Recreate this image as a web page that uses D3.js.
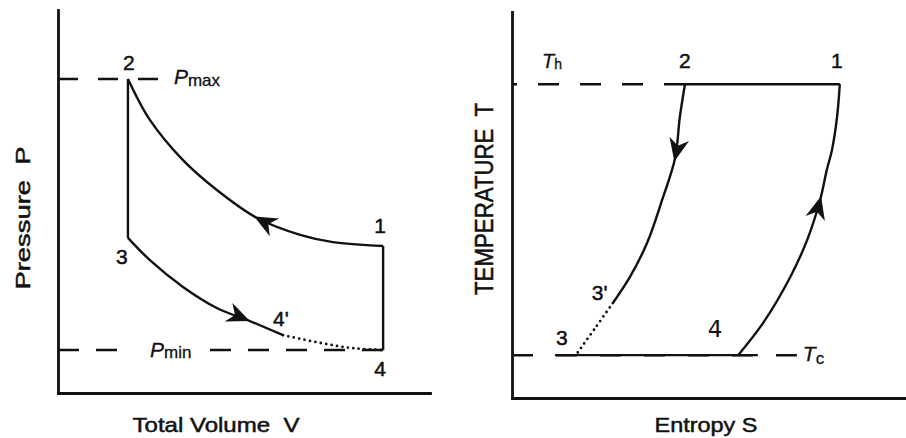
<!DOCTYPE html>
<html>
<head>
<meta charset="utf-8">
<script src="https://cdn.jsdelivr.net/npm/d3@7"></script>
<style>
  html, body { margin: 0; padding: 0; background: #fff; }
  svg { display: block; font-family: 'Liberation Sans', Arial, sans-serif; }
  text { white-space: pre; }
</style>
</head>
<body>
<svg id="chart" width="906" height="438"></svg>
<script>
// P-V diagram, arbitrary units (0-100 on both axes)
const pvStates = ['1', '2', '3', '4', "4'"]
const pvVolume = [87.4, 18.8, 18.8, 87.4, 60.5]
const pvPressure = [38.4, 82, 40.5, 11.2, 15.1]
const pvCompression = [[87.4, 38.4], [73.9, 39.4], [65.1, 41.3], [53.5, 45.7], [42.7, 53.0], [33.6, 60.8], [24.7, 71.3], [18.8, 82]]
const pvExpansion = [[18.8, 40.5], [24.7, 34.7], [33.6, 27.7], [42.7, 22.2], [50.8, 19.1], [60.5, 15.1]]
const pvExpansionIdeal = [[60.5, 15.1], [70.4, 13.1], [79.3, 11.7], [87.4, 11.2]]
const pvLevels = [82, 11.2]        // Pmax, Pmin
const pvLevelEnds = [27.4, 87.4]   // where the dashed guides stop

// T-S diagram, arbitrary units (0-100 on both axes)
const tsStates = ['1', '2', '3', '4', "3'"]
const tsEntropy = [83.2, 43.9, 16.2, 57.4, 25.6]
const tsTemperature = [81.3, 81.3, 11.1, 11.1, 24.6]
const tsExpansion = [[43.9, 81.3], [42.6, 72.8], [41.4, 62.2], [38.1, 51.3], [34.3, 40.2], [29.9, 31.3], [25.6, 24.6]]
const tsExpansionIdeal = [[25.6, 24.6], [21.1, 18.1], [16.2, 11.1]]
const tsCompression = [[57.4, 11.1], [63.7, 19.4], [70.6, 31.3], [74.9, 40.9], [78.2, 51.3], [79.9, 59.1], [81.2, 64.2], [82.5, 72.8], [83.2, 81.3]]
const tsRejection = [10.9, 62.4]   // extent of the Tc process line
const tsLevels = [81.3, 11.1]      // Th, Tc
const tsLevelEnds = [43.9, 72.3]

const ink = '#111'
const svg = d3.select('#chart')

const pvX = d3.scaleLinear().domain([0, 100]).range([58, 430])
const pvY = d3.scaleLinear().domain([0, 100]).range([393, 10])
const tsX = d3.scaleLinear().domain([0, 100]).range([512, 906])
const tsY = d3.scaleLinear().domain([0, 100]).range([398, 12])

const smooth = d3.curveCatmullRom.alpha(0.5)

const drawAxes = (x, y) => {
  svg.append('g')
    .attr('transform', `translate(0,${y(0)})`)
    .call(d3.axisBottom(x).tickValues([]).tickSizeOuter(0))
  svg.append('g')
    .attr('transform', `translate(${x(0)},0)`)
    .call(d3.axisLeft(y).tickValues([]).tickSizeOuter(0))
  svg.selectAll('.domain')
    .attr('stroke', ink)
    .attr('stroke-width', 2.8)
    .attr('stroke-linecap', 'square')
}

const drawLine = (x, y, pts, curve, style) => {
  const line = d3.line().x(d => x(d[0])).y(d => y(d[1])).curve(curve)
  const p = svg.append('path')
    .attr('d', line(pts))
    .attr('fill', 'none')
    .attr('stroke', ink)
    .attr('stroke-width', 2.4)
  if (style === 'dotted') {
    p.attr('stroke-dasharray', '0,5.5').attr('stroke-linecap', 'round').attr('stroke-width', 2.8)
  }
  return p
}

const drawGuide = (x, y, level, end, dash, offset) => {
  return svg.append('line')
    .attr('x1', x(0)).attr('x2', x(end))
    .attr('y1', y(level)).attr('y2', y(level))
    .attr('stroke', ink)
    .attr('stroke-width', 2.5)
    .attr('stroke-dasharray', dash)
    .attr('stroke-dashoffset', offset || 0)
}

const arrowAt = (path, t) => {
  const node = path.node()
  const len = node.getTotalLength() * t
  const p = node.getPointAtLength(len)
  const q = node.getPointAtLength(Math.max(0, len - 3))
  const a = Math.atan2(p.y - q.y, p.x - q.x) * 180 / Math.PI
  svg.append('path')
    .attr('d', 'M1,0L-22,-10L-15,0L-22,10Z')
    .attr('transform', `translate(${p.x},${p.y}) rotate(${a})`)
    .attr('fill', ink)
}

const label = (px, py, txt, opts) => {
  const o = Object.assign({ size: 21, anchor: 'middle', family: null, weight: 0.5 }, opts)
  const t = svg.append('text')
    .attr('x', px).attr('y', py)
    .attr('text-anchor', o.anchor)
    .attr('font-size', o.size)
    .attr('fill', ink)
    .attr('stroke', ink)
    .attr('stroke-width', o.weight)
    .text(txt)
  if (o.family) t.attr('font-family', o.family)
  return t
}

const subLabel = (px, py, main, sub, size, subSize, subDy) => {
  const t = svg.append('text')
    .attr('x', px).attr('y', py)
    .attr('fill', ink)
    .attr('stroke', ink)
    .attr('stroke-width', 0.3)
  t.append('tspan').attr('font-style', 'italic').attr('font-size', size).text(main)
  t.append('tspan').attr('font-size', subSize).attr('dy', subDy).text(sub)
  return t
}

// ---------- P-V panel ----------
drawAxes(pvX, pvY)

drawGuide(pvX, pvY, pvLevels[0], pvLevelEnds[0], '20,20')
drawGuide(pvX, pvY, pvLevels[1], pvLevelEnds[1], '21,17')

const pvPt = s => [pvVolume[pvStates.indexOf(s)], pvPressure[pvStates.indexOf(s)]]

const pvTop = drawLine(pvX, pvY, pvCompression, smooth)
drawLine(pvX, pvY, [pvPt('2'), pvPt('3')], d3.curveLinear)
const pvBottom = drawLine(pvX, pvY, pvExpansion, smooth)
drawLine(pvX, pvY, pvExpansionIdeal, smooth, 'dotted')
drawLine(pvX, pvY, [pvPt('4'), pvPt('1')], d3.curveLinear)
arrowAt(pvTop, 0.41)
arrowAt(pvBottom, 0.8)

// Pmax / Pmin labels
subLabel(pvX(pvLevelEnds[0]) + 14, pvY(pvLevels[0]) + 5, 'P', 'max', 21, 17, 2)
const pmin = subLabel(pvX(0) + 92, pvY(pvLevels[1]) + 7, 'P', 'min', 21, 17, 1)
const bb = pmin.node().getBBox()
svg.insert('rect', 'text')
  .attr('x', bb.x - 28).attr('y', bb.y)
  .attr('width', bb.width + 40).attr('height', bb.height)
  .attr('fill', '#fff')

const pvOffsets = { '1': [-3, -13], '2': [1, -9], '3': [-6, 26], '4': [-3, 26], "4'": [-10, -9] }
pvStates.forEach(s => {
  const [v, p] = pvPt(s)
  const [dx, dy] = pvOffsets[s]
  label(pvX(v) + dx, pvY(p) + dy, s, { anchor: s === "4'" ? 'start' : 'middle' })
})

label(216, 432, 'Total Volume  V', { size: 21 }).attr('textLength', 167).attr('lengthAdjust', 'spacingAndGlyphs')
label(0, 0, 'Pressure  P', { size: 21 })
  .attr('transform', 'translate(30,218) rotate(-90)')
  .attr('textLength', 143).attr('lengthAdjust', 'spacingAndGlyphs')

// ---------- T-S panel ----------
drawAxes(tsX, tsY)

const tsPt = s => [tsEntropy[tsStates.indexOf(s)], tsTemperature[tsStates.indexOf(s)]]

drawGuide(tsX, tsY, tsLevels[0], tsLevelEnds[0], '21,21', 16)
drawGuide(tsX, tsY, tsLevels[1], tsLevelEnds[1], '21,23')

drawLine(tsX, tsY, [tsPt('2'), tsPt('1')], d3.curveLinear)
drawLine(tsX, tsY, [[tsRejection[0], tsLevels[1]], [tsRejection[1], tsLevels[1]]], d3.curveLinear)
const tsLeft = drawLine(tsX, tsY, tsExpansion, smooth)
drawLine(tsX, tsY, tsExpansionIdeal, smooth, 'dotted')
const tsRight = drawLine(tsX, tsY, tsCompression, smooth)
arrowAt(tsLeft, 0.33)
arrowAt(tsRight, 0.61)

subLabel(tsX(0) + 30, tsY(tsLevels[0]) - 16, 'T', 'h', 20, 14, 1)
subLabel(tsX(tsLevelEnds[1]) + 6, tsY(tsLevels[1]) + 6, 'T', 'c', 21, 17, 3)

const tsOffsets = { '1': [-3, -16], '2': [0, -16], '3': [-14, -10], '4': [-23, -18], "3'": [-21, -3] }
tsStates.forEach(s => {
  const [e, t] = tsPt(s)
  const [dx, dy] = tsOffsets[s]
  const opts = { anchor: s === "3'" ? 'start' : 'middle' }
  if (s === '4') Object.assign(opts, { family: 'DejaVu Sans', size: 23, weight: 0 })
  label(tsX(e) + dx, tsY(t) + dy, s, opts)
})

label(706, 432, 'Entropy S', { size: 21 }).attr('textLength', 103).attr('lengthAdjust', 'spacingAndGlyphs')
label(0, 0, 'TEMPERATURE  T', { size: 26 })
  .attr('transform', 'translate(493,199) rotate(-90)')
  .attr('textLength', 192).attr('lengthAdjust', 'spacingAndGlyphs')
</script>
</body>
</html>
